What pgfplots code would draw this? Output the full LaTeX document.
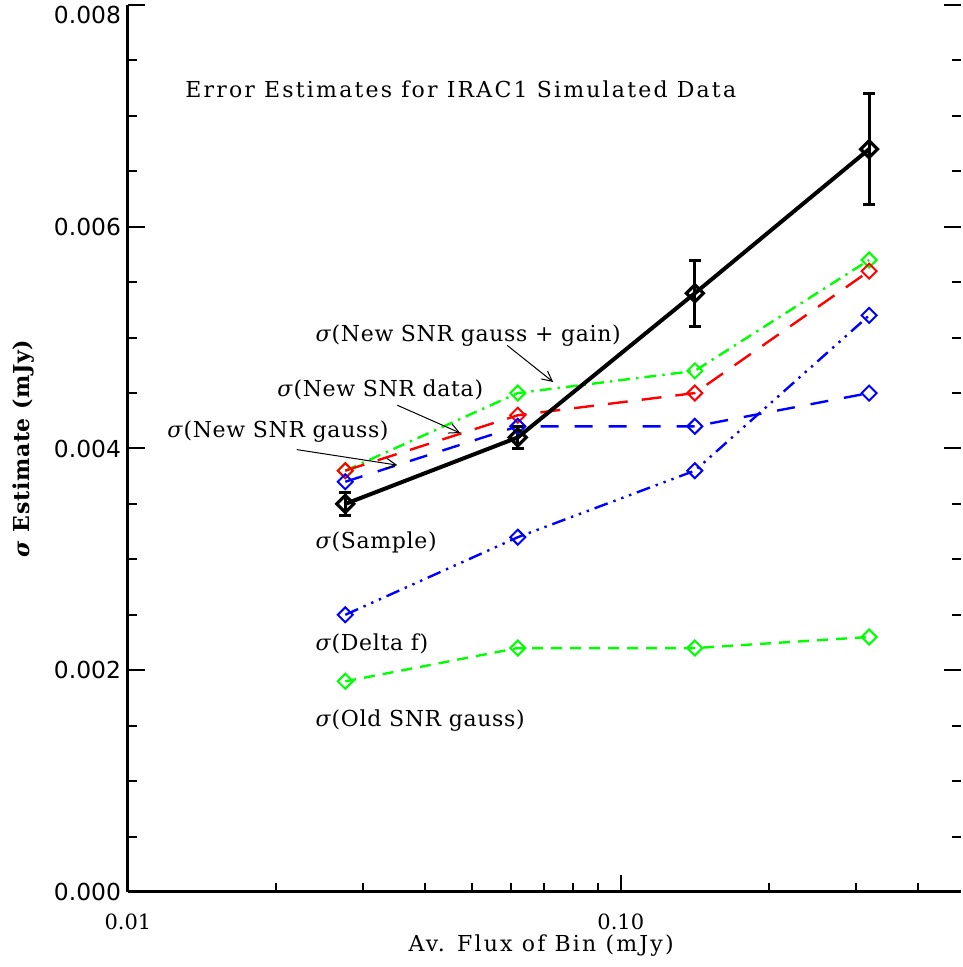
\documentclass[border=0pt]{standalone}
\usepackage{fontspec}
\setmainfont{DejaVu Serif}
\newfontfamily\ticksans{DejaVu Sans}
\newfontfamily\labfont[LetterSpace=10]{DejaVu Serif}
\newfontfamily\annfont[LetterSpace=3]{DejaVu Serif}
\usepackage{pgfplots}
\pgfplotsset{compat=1.18}
\usetikzlibrary{arrows.meta}

\definecolor{idlgreen}{RGB}{0,255,0}
\definecolor{idlred}{RGB}{255,0,0}
\definecolor{idlblue}{RGB}{0,0,255}

\newcommand{\xlab}[1]{\hbox{\rmfamily\fontsize{10.5}{12}\selectfont #1}}

\pgfplotsset{
  colline/.style={line width=1.2pt, mark=square, mark size=2.65pt,
    mark options={solid, rotate=45, line width=1pt}},
}

\begin{document}
\begin{tikzpicture}
% right-hand ticks, no line
\begin{axis}[
  scale only axis,
  width=416.5pt, height=443.5pt,
  xmode=log, xmin=0.01, xmax=0.49,
  ymin=0, ymax=0.008,
  tick align=inside,
  major tick length=8.5pt, minor tick length=4.5pt,
  every tick/.style={line width=1pt, black},
  ytick={0,0.002,0.004,0.006,0.008},
  minor y tick num=3,
  scaled y ticks=false,
  axis x line=none, axis y line*=right,
  y axis line style={draw=none},
  yticklabels={},
]
\addplot[draw=none] coordinates {(0.02,0.001)};
\end{axis}

\begin{axis}[
  scale only axis,
  width=416.5pt, height=443.5pt,
  xmode=log, xmin=0.01, xmax=0.49,
  ymin=0, ymax=0.008,
  tick align=inside,
  major tick length=8.5pt, minor tick length=4.5pt,
  every tick/.style={line width=1pt, black},
  ytick={0,0.002,0.004,0.006,0.008},
  minor y tick num=3,
  scaled y ticks=false,
  axis x line*=bottom, axis y line*=left,
  axis line style={line width=1.5pt},
  xtick={0.01,0.1}, xticklabels={\xlab{0.01},\xlab{0.10}},
  minor xtick={0.02,0.03,0.04,0.05,0.06,0.07,0.08,0.09,0.2,0.3,0.4},
  yticklabels={0.000,0.002,0.004,0.006,\raisebox{-9.2pt}[0pt][0pt]{0.008}},
  yticklabel style={font=\ticksans\fontsize{11.7}{12}\selectfont},
  xticklabel style={inner sep=0pt, yshift=-11pt},
  clip=false,
]
% sigma(New SNR gauss + gain)
\addplot[colline, idlgreen, dash pattern=on 6pt off 3pt on 1.2pt off 3pt] coordinates {
  (0.0276,0.0038) (0.0618,0.0045) (0.1413,0.0047) (0.319,0.0057)};
% sigma(New SNR data)
\addplot[colline, idlred, dash pattern=on 10pt off 7pt] coordinates {
  (0.0276,0.0038) (0.0618,0.0043) (0.1413,0.0045) (0.319,0.0056)};
% sigma(New SNR gauss)
\addplot[colline, idlblue, dash pattern=on 9pt off 8pt] coordinates {
  (0.0276,0.0037) (0.0618,0.0042) (0.1413,0.0042) (0.319,0.0045)};
% sigma(Delta f)
\addplot[colline, idlblue, dash pattern=on 7pt off 3pt on 1.2pt off 3pt on 1.2pt off 3pt on 1.2pt off 3pt] coordinates {
  (0.0276,0.0025) (0.0618,0.0032) (0.1413,0.0038) (0.319,0.0052)};
% sigma(Old SNR gauss)
\addplot[colline, idlgreen, dash pattern=on 5.5pt off 4pt] coordinates {
  (0.0276,0.0019) (0.0618,0.0022) (0.1413,0.0022) (0.319,0.0023)};
% sigma(Sample)
\addplot[black, line width=2pt, mark=square, mark size=3pt,
  mark options={solid, rotate=45, line width=1.6pt},
  error bars/.cd, y dir=both, y explicit,
  error bar style={line width=1.5pt},
  error mark options={rotate=90, mark size=3pt, line width=1.5pt}]
  coordinates {
  (0.0276,0.0035) +- (0,0.0001)
  (0.0618,0.0041) +- (0,0.0001)
  (0.1413,0.0054) +- (0,0.0003)
  (0.319,0.0067) +- (0,0.0005)};

\node[anchor=west, inner sep=0, font=\labfont\fontsize{11}{13}\selectfont]
  at (axis cs:0.01305,0.00724) {Error Estimates for IRAC1 Simulated Data};

\begin{scope}[font=\annfont\fontsize{11}{13}\selectfont]
\node[anchor=west, inner sep=0] at (axis cs:0.02397,0.00502) {\textit{σ}(New SNR gauss + gain)};
\node[anchor=west, inner sep=0] at (axis cs:0.02006,0.00453) {\textit{σ}(New SNR data)};
\node[anchor=west, inner sep=0] at (axis cs:0.0120,0.00415) {\textit{σ}(New SNR gauss)};
\node[anchor=west, inner sep=0] at (axis cs:0.02397,0.00315) {\textit{σ}(Sample)};
\node[anchor=west, inner sep=0] at (axis cs:0.02397,0.00224) {\textit{σ}(Delta f)};
\node[anchor=west, inner sep=0] at (axis cs:0.02397,0.00155) {\textit{σ}(Old SNR gauss)};
\end{scope}

\draw[line width=0.5pt, -{Straight Barb[length=5pt,width=5pt]}]
  (axis cs:0.0588,0.00493) -- (axis cs:0.0729,0.0046);
\draw[line width=0.5pt, -{Straight Barb[length=5pt,width=5pt]}]
  (axis cs:0.0352,0.00439) -- (axis cs:0.0472,0.00414);
\draw[line width=0.5pt, -{Straight Barb[length=5pt,width=5pt]}]
  (axis cs:0.0220,0.00399) -- (axis cs:0.0352,0.00385);

% axis labels
\node[inner sep=0, font=\labfont\fontsize{11}{13}\selectfont] at (rel axis cs:0.496,-0.0600) {Av. Flux of Bin (mJy)};
\node[rotate=90, font=\annfont\bfseries\fontsize{11}{13}\selectfont] at (rel axis cs:-0.1248,0.5) {\textit{σ} Estimate (mJy)};
\end{axis}
\pgfresetboundingbox
\path (-64pt,-37.5pt) rectangle (417pt,446pt);
\end{tikzpicture}
\end{document}
